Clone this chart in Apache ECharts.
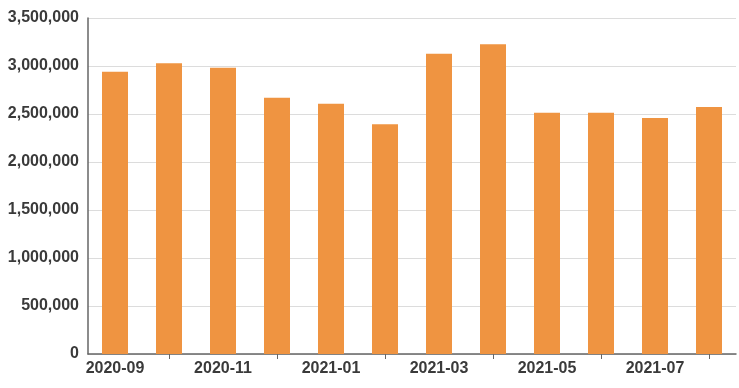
<!DOCTYPE html>
<html>
<head>
<meta charset="utf-8">
<script src="https://cdn.jsdelivr.net/npm/echarts@6/dist/echarts.min.js"></script>
<style>html,body{margin:0;padding:0;background:#fff;}#c{width:739px;height:388px;}</style>
</head>
<body>
<div id="c"></div>
<script>
const categories = ['2020-09','2020-10','2020-11','2020-12','2021-01','2021-02','2021-03','2021-04','2021-05','2021-06','2021-07','2021-08'];
const values = [2940000, 3028000, 2982000, 2670000, 2607000, 2392000, 3128000, 3226000, 2514000, 2514000, 2458000, 2573000];
const yTicks = {min: 0, max: 3500000, interval: 500000};

const chart = echarts.init(document.getElementById('c'), null, {renderer: 'canvas'});
chart.setOption({
  animation: false,
  grid: {left: 88, right: 3, top: 18, bottom: 34},
  xAxis: {
    type: 'category',
    data: categories,
    axisLine: {lineStyle: {color: '#666', width: 1.5}},
    axisTick: {show: true, alignWithLabel: true, interval: function (i) { return i % 2 === 1; }, length: 5, lineStyle: {color: '#666'}},
    axisLabel: {interval: function (i) { return i % 2 === 0; }, color: '#3a3a3a', fontSize: 16, fontWeight: 'bold', fontFamily: 'Liberation Sans, Arial, sans-serif', margin: 7}
  },
  yAxis: {
    type: 'value',
    min: yTicks.min, max: yTicks.max, interval: yTicks.interval,
    axisLine: {show: true, lineStyle: {color: '#666', width: 1.5}},
    axisTick: {show: false},
    splitLine: {lineStyle: {color: '#dcdcdc'}},
    axisLabel: {color: '#3a3a3a', fontSize: 16, fontWeight: 'bold', fontFamily: 'Liberation Sans, Arial, sans-serif', margin: 9,
      formatter: function (v) { return v.toLocaleString('en-US'); }}
  },
  series: [{
    type: 'bar',
    data: values,
    barWidth: 26,
    itemStyle: {color: '#EF9441'}
  }]
});
</script>
</body>
</html>
